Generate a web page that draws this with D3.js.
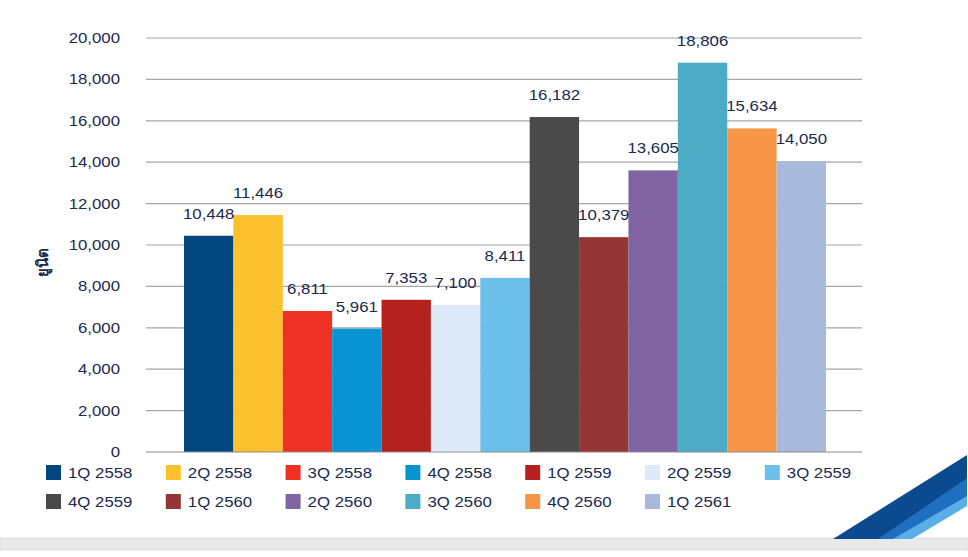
<!DOCTYPE html>
<html><head><meta charset="utf-8">
<script src="https://cdn.jsdelivr.net/npm/d3@7"></script>
<style>body{margin:0;background:#fff}svg{display:block}</style>
</head><body>
<script>
const categories = ["1Q 2558","2Q 2558","3Q 2558","4Q 2558","1Q 2559","2Q 2559","3Q 2559","4Q 2559","1Q 2560","2Q 2560","3Q 2560","4Q 2560","1Q 2561"];
const values = [10448,11446,6811,5961,7353,7100,8411,16182,10379,13605,18806,15634,14050];
const colors = ["#02467f","#fcc12d","#ee3124","#0893d2","#b5211e","#dcebf7","#6cc0e9","#4a4a4a","#953535","#8063a1","#4cacc6","#f79646","#a9b9d9"];
const yTicks = [0,2000,4000,6000,8000,10000,12000,14000,16000,18000,20000];
const yLabel = "ยูนิต";

const W=968,H=557;
const svg=d3.select("body").append("svg").attr("width",W).attr("height",H);
const font="'Liberation Sans', Arial, sans-serif";
const textColor="#1b2a4e";
const SX=1.2;

// bottom band
svg.append("rect").attr("x",0).attr("y",538).attr("width",W).attr("height",12).attr("fill","#e9e9e9").attr("stroke","#dcdcdc");

// decorative swoosh
svg.append("path").attr("d","M833,539 L967,455 L967,497 L900,539 Z").attr("fill","#0c4a8f");
svg.append("path").attr("d","M878,539 L967,478 L967,500 L903,539 Z").attr("fill","#1e6fbf");
svg.append("path").attr("d","M893,539 L967,496 L967,506 L912,539 Z").attr("fill","#5aaee6");

const x0=146,x1=862,y0=452,y1=38;
const y=d3.scaleLinear().domain([0,20000]).range([y0,y1]);
const x=d3.scaleBand().domain(categories).range([x0+38,x1-36]).paddingInner(0).paddingOuter(0);

function stext(g,tx,ty,str,anchor){
  return g.append("text").attr("transform",`translate(${tx},${ty}) scale(${SX},1)`)
   .attr("text-anchor",anchor).attr("font-family",font).attr("font-size",14).attr("fill",textColor).text(str);
}

// grid
svg.append("g").selectAll("line").data(yTicks.filter(d=>d>0)).join("line")
 .attr("x1",x0).attr("x2",x1).attr("y1",d=>y(d)).attr("y2",d=>y(d))
 .attr("stroke","#a6a6a6").attr("stroke-width",1.2);

// y axis labels
const yAxis=d3.axisLeft(y).tickValues(yTicks).tickFormat(d3.format(",")).tickSize(0).tickPadding(0);
const ga=svg.append("g").attr("transform",`translate(120,0)`).call(yAxis);
ga.select(".domain").remove();
ga.selectAll("text").attr("font-family",font).attr("font-size",14).attr("fill",textColor)
  .attr("transform",`scale(${SX},1)`);

// bars
svg.append("g").selectAll("rect").data(values).join("rect")
 .attr("x",(d,i)=>x(categories[i])).attr("width",x.bandwidth())
 .attr("y",d=>y(d)).attr("height",d=>y0-y(d)).attr("fill",(d,i)=>colors[i]);

// baseline
svg.append("line").attr("x1",x0).attr("x2",x1).attr("y1",y0).attr("y2",y0).attr("stroke","#8c8c8c").attr("stroke-width",1.2);

// value labels
const vl=svg.append("g");
values.forEach((d,i)=>stext(vl,x(categories[i])+x.bandwidth()/2,y(d)-17,d3.format(",")(d),"middle"));

// y label
svg.append("text").attr("transform","translate(48,262) rotate(-90)").attr("text-anchor","middle")
 .attr("font-family","'Noto Sans', 'DejaVu Sans', sans-serif").attr("font-size",15).attr("font-weight","bold").attr("fill",textColor).text(yLabel);

// legend
const lg=svg.append("g");
categories.forEach((c,i)=>{
  const row=Math.floor(i/7), col=i%7;
  const lx=46+col*119.8, ly=465+row*29;
  lg.append("rect").attr("x",lx).attr("y",ly).attr("width",15).attr("height",15).attr("fill",colors[i]);
  stext(lg,lx+22,ly+13,c,"start");
});
</script>
</body></html>
